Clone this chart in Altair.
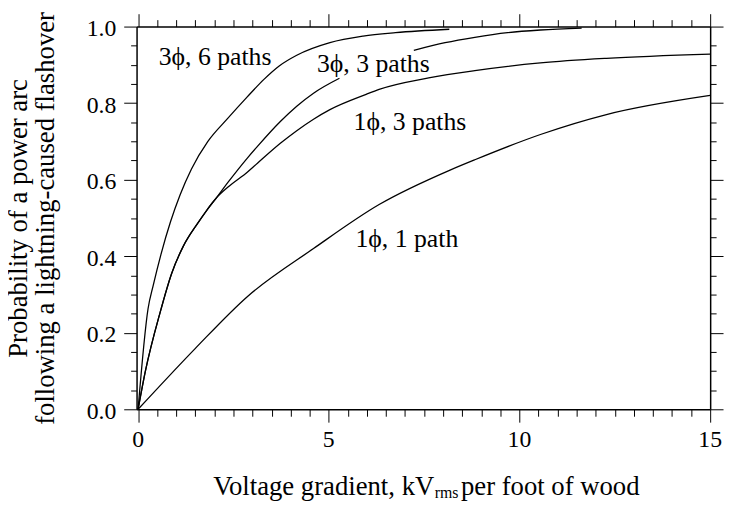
import altair as alt
import pandas as pd

FONT = "Liberation Serif"

# ---- curve data ----
x_3p6 = [0, 0.26, 0.4, 0.6, 0.85, 1.1, 1.4, 1.83, 2.35, 2.85, 3.3, 3.7, 4.16, 5.03, 5.9, 6.75, 8.16]
y_3p6 = [0, 0.262, 0.325, 0.405, 0.49, 0.56, 0.628, 0.70, 0.76, 0.815, 0.862, 0.897, 0.925, 0.958, 0.975, 0.984, 0.993]

x_3p3a = [0, 0.19, 0.58, 0.88, 1.18, 1.57, 1.8, 2.05, 2.35, 2.87, 3.13, 3.73, 4.16, 4.6, 5.28]
y_3p3a = [0, 0.099, 0.254, 0.355, 0.425, 0.487, 0.52, 0.552, 0.592, 0.657, 0.687, 0.752, 0.792, 0.826, 0.865]

x_3p3b = [7.23, 8.05, 8.83, 9.69, 10.55, 11.63]
y_3p3b = [0.938, 0.958, 0.972, 0.984, 0.991, 0.996]

x_1p3 = [0, 0.19, 0.58, 0.88, 1.18, 1.57, 1.8, 2.05, 2.35, 2.87, 3.13, 3.73, 4.16, 4.6, 5.03, 5.98, 6.32, 7.62, 8.83, 10.55, 12.28, 15]
y_1p3 = [0, 0.099, 0.254, 0.355, 0.425, 0.487, 0.52, 0.552, 0.58, 0.62, 0.643, 0.695, 0.728, 0.758, 0.783, 0.823, 0.836, 0.866, 0.885, 0.905, 0.917, 0.928]

x_1p1 = [0, 1.49, 2.87, 4.6, 6.32, 8.18, 8.83, 10.55, 12.28, 15]
y_1p1 = [0, 0.158, 0.295, 0.42, 0.535, 0.625, 0.652, 0.718, 0.77, 0.82]

# ---- curve labels ----
labels = ["3\u03d5, 6 paths", "3\u03d5, 3 paths", "1\u03d5, 3 paths", "1\u03d5, 1 path"]
label_x = [0.54, 4.69, 5.65, 5.70]
label_y = [0.899, 0.882, 0.731, 0.424]

# ---- axis ticks and tick labels ----
x_ticks = [i * 0.5 for i in range(31)]
y_ticks = [round(i * 0.05, 2) for i in range(21)]
x_label_values = [0, 5, 10, 15]
x_label_text = ["0", "5", "10", "15"]
y_label_values = [0.0, 0.2, 0.4, 0.6, 0.8, 1.0]
y_label_text = ["0.0", "0.2", "0.4", "0.6", "0.8", "1.0"]
X_DOMAIN = [-0.04, 15]
Y_DOMAIN = [0, 1]

y_title = ["Probability of a power arc", "following a lightning-caused flashover"]

rows = []
for name, xs_, ys_ in [("3p6", x_3p6, y_3p6), ("3p3a", x_3p3a, y_3p3a), ("3p3b", x_3p3b, y_3p3b),
                       ("1p3", x_1p3, y_1p3), ("1p1", x_1p1, y_1p1)]:
    for xv, yv in zip(xs_, ys_):
        rows.append({"series": name, "x": xv, "y": yv})
df = pd.DataFrame(rows)
df_lab = pd.DataFrame({"x": label_x, "y": label_y, "label": labels})
df_xl = pd.DataFrame({"v": x_label_values, "t": x_label_text})
df_yl = pd.DataFrame({"v": y_label_values, "t": y_label_text})

x_major = "datum.value % 5 === 0"
y_major = "abs(datum.value * 5 - round(datum.value * 5)) < 0.000001"

common = dict(domainColor="black", domainWidth=1.5, tickColor="black", tickWidth=1, grid=False,
              labels=False)

x_bottom = alt.Axis(orient="bottom", values=x_ticks,
                    tickSize={"condition": {"test": x_major, "value": 13}, "value": 7},
                    title="", **common)
x_top = alt.Axis(orient="top", values=x_ticks,
                 tickSize={"condition": {"test": x_major, "value": 13}, "value": 7},
                 title="", **common)
y_left = alt.Axis(orient="left", values=y_ticks,
                  tickSize={"condition": {"test": y_major, "value": 13}, "value": 6},
                  title=y_title, titleFont=FONT, titleFontSize=27, titleFontWeight="normal",
                  titleColor="black", titleAngle=270, titleAlign="center", titleBaseline="alphabetic",
                  titleX=-111, titleY=193.5, titleLineHeight=27, **common)
y_right = alt.Axis(orient="right", values=y_ticks,
                   tickSize={"condition": {"test": y_major, "value": 13}, "value": 6},
                   title="", **common)

xs = alt.Scale(domain=X_DOMAIN, nice=False, zero=False)
ys = alt.Scale(domain=Y_DOMAIN, nice=False, zero=False)

lines = alt.Chart(df).mark_line(color="black", strokeWidth=1.3, interpolate="monotone").encode(
    x=alt.X("x:Q", scale=xs, axis=x_bottom),
    y=alt.Y("y:Q", scale=ys, axis=y_left),
    detail="series:N",
)

lab = alt.Chart(df_lab).mark_text(font=FONT, fontSize=26, align="left", baseline="alphabetic",
                                  color="black").encode(
    x=alt.X("x:Q", scale=xs, axis=x_top),
    y=alt.Y("y:Q", scale=ys, axis=y_right),
    text="label:N",
)

xl = alt.Chart(df_xl).mark_text(font=FONT, fontSize=24, align="center", baseline="alphabetic",
                                color="black").encode(
    x=alt.X("v:Q", scale=xs, axis=None),
    y=alt.value(425.3),
    text="t:N",
)

yl = alt.Chart(df_yl).mark_text(font=FONT, fontSize=24, align="right", baseline="alphabetic",
                                color="black", dy=9.5).encode(
    x=alt.value(-20.5),
    y=alt.Y("v:Q", scale=ys, axis=None),
    text="t:N",
)

one = pd.DataFrame({"k": [0]})
t1 = alt.Chart(one).mark_text(text="Voltage gradient, kV", font=FONT, fontSize=27, align="right",
                              baseline="alphabetic", color="black").encode(
    x=alt.value(301), y=alt.value(473.5))
t2 = alt.Chart(one).mark_text(text="rms", font=FONT, fontSize=16, align="left",
                              baseline="alphabetic", color="black").encode(
    x=alt.value(301.5), y=alt.value(477))
t3 = alt.Chart(one).mark_text(text="per foot of wood", font=FONT, fontSize=27, align="left",
                              baseline="alphabetic", color="black").encode(
    x=alt.value(328), y=alt.value(473.5))

chart = alt.layer(lines, lab, xl, yl, t1, t2, t3).resolve_axis(
    x="independent", y="independent"
).properties(
    width=580, height=387,
    padding={"left": 130, "top": 16, "right": 15, "bottom": 95},
    autosize=alt.AutoSizeParams(type="none"),
    background="white",
).configure(font=FONT).configure_view(stroke="transparent")

chart.save("out.html", embed_options={"renderer": "svg", "actions": False})
